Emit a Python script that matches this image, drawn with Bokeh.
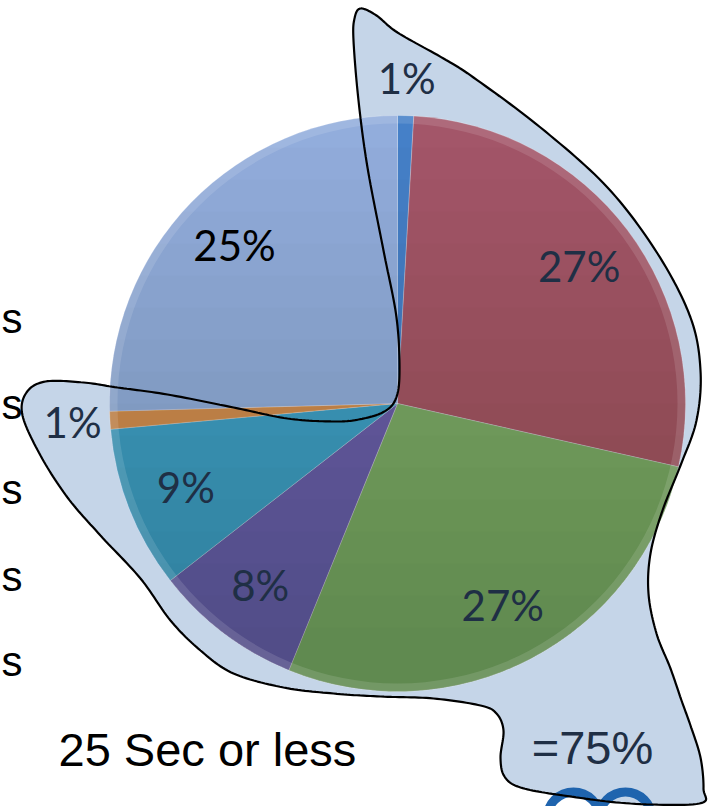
import numpy as np
from bokeh.plotting import figure
from bokeh.models import Range1d, ColumnDataSource
from bokeh.core.properties import value
from bokeh.embed import file_html
from bokeh.resources import INLINE

# ---------------- data ----------------
shares = [0.9, 27.6, 27.6, 8.3, 9.1, 1.0, 25.4]          # clockwise from 12 o'clock
labels = ["1%", "27%", "27%", "8%", "9%", "1%", "25%"]
colors = ["#4580C8", "#A35669", "#80AA6C", "#7065A8", "#40A0CA", "#D6904E", "#92ADDC"]
label_colors = ["#1F2F45", "#1F2F45", "#1F2F45", "#1F2F45", "#1F2F45", "#1F2F45", "#000000"]
side_letters = ["s", "s", "s", "s", "s"]
caption = "25 Sec or less"
total_note = "=75%"

# ---------------- layout ----------------
W, H = 712, 806
CX, CY, R = 397, 403, 288          # pixel space (y down)


def Y(yp):
    return H - np.asarray(yp, dtype=float)


p = figure(width=W, height=H, x_range=Range1d(0, W), y_range=Range1d(0, H),
           output_backend="svg", toolbar_location=None,
           x_axis_location=None, y_axis_location=None, min_border=0)
p.grid.visible = False
p.outline_line_color = None
p.background_fill_color = "white"
p.border_fill_color = "white"


# ---------------- callout blob ----------------
def catmull(points, n=14):
    P = np.array(points, float)
    m = len(P)
    out = []
    for i in range(m):
        p0, p1, p2, p3 = P[(i - 1) % m], P[i], P[(i + 1) % m], P[(i + 2) % m]
        for t in np.linspace(0, 1, n, endpoint=False):
            t2, t3 = t * t, t * t * t
            out.append(0.5 * ((2 * p1) + (-p0 + p2) * t + (2 * p0 - 5 * p1 + 4 * p2 - p3) * t2
                              + (-p0 + 3 * p1 - 3 * p2 + p3) * t3))
    return np.array(out)


blob_pts = [
    (360, 8), (376, 15), (397, 32), (443, 58), (473, 77), (540, 127), (607, 187), (657, 253),
    (690, 317), (700, 370), (696, 420), (680, 465), (662, 510), (650, 553), (648, 593),
    (656, 633), (670, 668), (681, 700), (690, 725), (700, 757), (703, 788), (699, 803),
    (630, 803), (563, 795), (520, 787), (504, 776), (500, 757), (503, 730), (496, 713),
    (480, 705), (433, 698), (380, 696), (333, 693), (283, 687), (233, 673), (200, 650),
    (170, 620), (140, 578), (100, 535), (67, 497), (40, 455), (22, 415), (26, 392),
    (45, 381), (83, 382), (117, 387), (167, 394), (233, 407), (287, 418), (333, 421),
    (358, 419), (382, 412), (395, 399), (399, 372), (396, 317), (383, 250), (367, 167),
    (358, 100), (353, 40), (354, 18),
]
curve = catmull(blob_pts)
bx = list(curve[:, 0]) + [curve[0, 0]]
by = list(Y(curve[:, 1])) + [Y(curve[0, 1])]
p.patch(bx, by, fill_color="#C5D5E8", line_color=None)

# logo fragment at the bottom edge
p.annulus(x=[573, 625], y=list(Y([818, 818])), inner_radius=22, outer_radius=31,
          fill_color="#1F64AE", line_color=None)

# ---------------- pie ----------------
sh = np.array(shares, float)
frac = sh / sh.sum()
a1 = np.cumsum(frac) * 2 * np.pi
a0 = a1 - frac * 2 * np.pi
src = ColumnDataSource(dict(start=np.pi / 2 - a0, end=np.pi / 2 - a1, color=colors))
p.wedge(x=CX, y=float(Y(CY)), radius=R, start_angle="start", end_angle="end",
        direction="clock", fill_color="color", line_color="white", line_alpha=0.25,
        line_width=1, source=src)

# vertical shading (darker towards the bottom)
N = 16
for k in range(N):
    yp = CY - R + (k + 1) * (2 * R) / (N + 2)
    s = (yp - CY) / R
    phi = np.arcsin(s)
    t = np.linspace(phi, np.pi - phi, 90)
    xs = CX + R * np.cos(t)
    ys = Y(CY + R * np.sin(t))
    p.patch(list(xs), list(ys), fill_color="black", fill_alpha=0.010, line_color=None)

# bevel rim
p.annulus(x=CX, y=float(Y(CY)), inner_radius=R - 8, outer_radius=R,
          fill_color="white", fill_alpha=0.12, line_color=None)

# outline of the callout on top
p.line(bx, by, line_color="black", line_width=2.2)

# ---------------- labels ----------------
mid = (a0 + a1) / 2
lr = np.where(frac > 0.03, 0.79 * R, 1.13 * R)
lx = CX + lr * np.sin(mid)
ly = Y(CY - lr * np.cos(mid))
p.text(x=list(lx), y=list(ly), text=labels, text_color=label_colors,
       text_font=value("Lato"), text_font_size="42px",
       text_align="center", text_baseline="middle")

p.text(x=[1] * 5, y=list(Y([318, 404, 489, 576, 661])), text=side_letters,
       text_font=value("Liberation Sans"), text_font_size="42px", text_color="black",
       text_align="left", text_baseline="middle")

p.text(x=[58], y=[float(Y(749))], text=[caption], text_font=value("Liberation Sans"),
       text_font_size="47px", text_color="black", text_align="left", text_baseline="middle")
p.text(x=[592], y=[float(Y(747))], text=[total_note], text_font=value("Liberation Sans"),
       text_font_size="47px", text_color="#1F2F45", text_align="center", text_baseline="middle")

open("out.html", "w").write(file_html(p, INLINE))
